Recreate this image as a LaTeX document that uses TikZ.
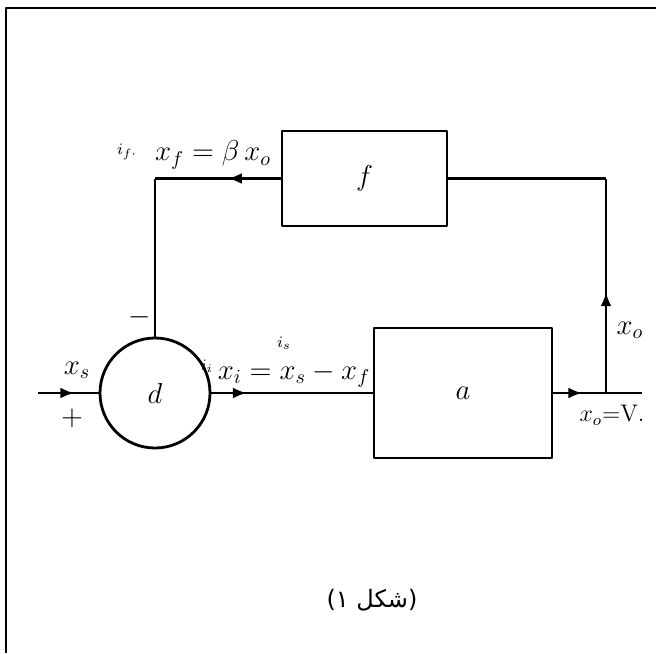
\documentclass[tikz,border=0pt]{standalone}
\usepackage{amsmath,amssymb}
\usepackage{fontspec}
\newfontfamily\arabicfont[Script=Arabic]{DejaVu Sans}
\TeXXeTstate=1
\usepackage{tikz}
\usetikzlibrary{arrows.meta,positioning,decorations.markings}
\tikzset{
    blk/.style={draw,line width=1.4pt,font=\Large},
    sumnode/.style={draw,circle,line width=1.4pt,minimum size=55pt,inner sep=0pt,font=\Large},
    flow/.style={line width=1.4pt},
    midarr/.style={postaction={decorate},decoration={markings,
        mark=at position #1 with {\arrow{Latex[length=7pt,width=5.5pt]}}}},
    lbl/.style={font=\Large,inner sep=1pt},
    scrib/.style={font=\footnotesize,inner sep=0pt}
}

\begin{document}
\begin{tikzpicture}[x=0.5pt,y=-0.5pt, line join=round, >=Latex]
    \useasboundingbox (0,0) rectangle (656,653);
    % frame
    \draw[line width=1.1pt] (6,653) -- (6,8) -- (656,8);
    % blocks
    \node[sumnode] (d) at (155,393) {$d$};
    \node[blk,minimum width=82.5pt,minimum height=47.5pt] (fb) at (364.5,178.5) {$f$};
    \node[blk,minimum width=89pt,minimum height=65pt] (ab) at (463,393) {$a$};
    % corners and ends
    \coordinate (in) at (38,393);
    \coordinate (jn) at (606,393);
    \coordinate (out) at (642,393);
    \coordinate (fr) at (jn |- fb.east);
    \coordinate (fl) at (d.north |- fb.west);
    % forward path
    \draw[flow,midarr=0.6] (in) -- (d.west);
    \draw[flow,midarr=0.22] (d.east) -- (ab.west);
    \draw[flow,midarr=0.55] (ab.east) -- (jn);
    \draw[flow] (jn) -- (out);
    % feedback path
    \draw[flow,midarr=0.47] (jn) -- (fr);
    \draw[flow] (fr) -- (fb.east);
    \draw[flow,midarr=0.42] (fb.west) -- (fl);
    \draw[flow] (fl) -- (d.north);
    % labels
    \node[lbl] (xs) at (77,370) {$x_s$};
    \node[lbl] (plus) at (72,418) {$+$};
    \node[lbl] (minus) at (140,317) {$-$};
    \node[lbl] (xf) at (213,155) {$x_f = \beta\, x_o$};
    \node[scrib] (if) at (127,152) {$i_{f\cdot}$};
    \node[lbl] (xi) at (294,375) {$x_i = x_s - x_f$};
    \node[scrib] (ii) at (207,366) {$i_i$};
    \node[scrib] (is) at (284,343) {$i_s$};
    \node[lbl] (xo) at (630,330) {$x_o$};
    \node[lbl,font=\large] (vo) at (612,415) {$x_o{=}\mathrm{V}.$};
    % caption
    \node[font=\arabicfont\large] (cap) at (372,600) {\beginR(شکل ۱)\endR};
\end{tikzpicture}
\end{document}
